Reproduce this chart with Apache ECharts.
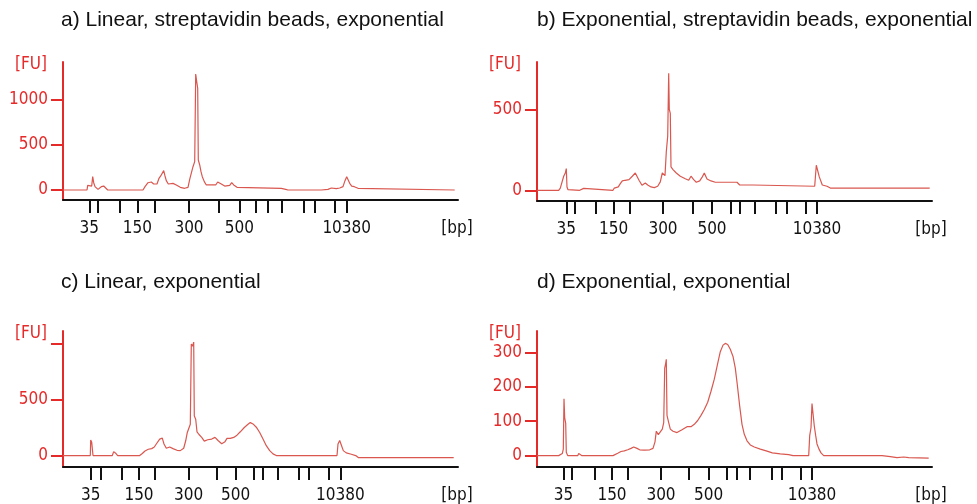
<!DOCTYPE html>
<html>
<head>
<meta charset="utf-8">
<script src="https://cdn.jsdelivr.net/npm/echarts@6/dist/echarts.min.js"></script>
<style>
html,body{margin:0;padding:0;background:#fff;}
#chart{width:977px;height:504px;}
</style>
</head>
<body>
<div id="chart"></div>
<script>
// ---- data (x = migration position, arbitrary units; y = fluorescence [FU]) ----
const ladderBp = [35, 50, 100, 150, 200, 300, 400, 500, 700, 1000, 1500, 2000, 3000, 7000, 10380];
const labeledBp = [35, 150, 300, 500, 10380];

const titles = [
  'a) Linear, streptavidin beads, exponential',
  'b) Exponential, streptavidin beads, exponential',
  'c) Linear, exponential',
  'd) Exponential, exponential'
];

// ladder peak positions per panel (migration units)
const ladderPosA = [26.3, 34.3, 56.3, 74.3, 92, 126, 155.3, 176.3, 192.7, 204.7, 218.7, 240.3, 252, 272, 283.7];
const ladderPosB = [29.3, 37.3, 59, 76.6, 92.3, 126, 155.6, 175, 193.3, 202.6, 217.3, 238.3, 250, 268.3, 280];
const ladderPosC = [27.7, 37.7, 58.4, 76, 91.7, 125.7, 153.4, 172.7, 191, 200, 214.4, 236, 246, 266, 277.4];
const ladderPosD = [26.6, 35, 57.6, 75, 90.6, 124, 151.6, 171.6, 190, 199.3, 212.6, 235, 245, 264, 275];

// y tick values per panel
const yTicksA = [0, 500, 1000];
const yTicksB = [0, 500];
const yTicksC = [0, 500, 1000];
const yLabelsC = [0, 500];
const yTicksD = [0, 100, 200, 300];

// electropherogram traces
const traceA = [
  [0,0],[24,0],[24.7,52],[26.7,37],[28.7,44],[29.7,148],[30.7,81],[32,37],[35,7],[38.3,37],[40.7,44],[42.7,30],[44.7,0],
  [80,0],[82,37],[85,81],[88.3,89],[90.7,67],[92.7,89],[94,67],[96,130],[97.7,156],[99.3,178],[100.7,215],[102,156],
  [103.3,104],[105.3,67],[107.3,56],[110,74],[113.3,56],[117.3,30],[121.7,19],[125,30],[126.7,119],[128.7,141],[130,259],
  [131.7,315],[132.7,1289],[133.7,1204],[134.7,1130],[135.3,333],[136.7,278],[138,204],[139.3,148],[141.3,93],[143.3,56],
  [152.7,56],[154.7,89],[156.7,100],[158.3,67],[161.7,44],[166.7,52],[168.7,81],[170.7,56],[174,30],[176,19],[218.3,19],
  [220,0],[222.7,7],[225,0],[258.3,0],[260,15],[265,7],[268.3,22],[273.3,15],[276.7,22],[280,37],[282,104],[283.7,148],
  [285.3,133],[286.7,74],[288.7,44],[291.3,37],[295,19],[296.7,0],[391.7,0]
];
const traceB = [
  [0,0],[21.7,0],[23.3,14],[25.3,10],[26.7,87],[28.3,107],[29.3,134],[30,21],[31,4],[42.7,0],[44,12],[46.7,12],[48,0],
  [76,0],[77.3,14],[81.3,21],[83.3,41],[85.3,58],[88,62],[90,50],[92,66],[94,58],[95.3,87],[97.3,79],[98.3,107],[100.3,107],
  [102,62],[105,31],[108.3,45],[110.7,33],[114,21],[117.3,17],[120.7,25],[123.3,52],[125.3,107],[128,91],[129.3,238],
  [130.7,335],[131.7,723],[132.3,500],[133.3,475],[134,145],[136,128],[139.3,107],[143.3,87],[148.3,72],[151.7,62],
  [154,87],[156.7,66],[159.3,50],[162.7,58],[165.3,83],[167.3,107],[170,70],[174,58],[178.3,50],[181.3,50],[182.7,62],
  [184.7,50],[200,50],[202.7,33],[216,33],[218,25],[277.7,25],[279.3,155],[281,149],[282.3,83],[284,74],[285.3,33],
  [290,25],[293.3,14],[392.7,14]
];
const traceC = [
  [0,0],[27.3,0],[27.7,138],[28.7,118],[29.7,109],[30,0],[49.3,0],[50.7,35],[51.7,50],[53,18],[54.7,0],[76.7,0],
  [79.3,18],[82,41],[85.3,56],[88.7,62],[91.3,76],[93.3,103],[95.3,88],[96.7,147],[99.3,156],[101,103],[103.3,65],
  [106.7,76],[110,62],[114,47],[117.3,44],[120.7,65],[122.7,132],[124.3,206],[126.3,200],[127.3,279],[128.3,994],
  [129.7,976],[130.7,1012],[131.3,353],[132.7,324],[134,212],[136,188],[138.7,162],[141.3,129],[144.7,141],[148.7,147],
  [152,162],[155.3,132],[158.7,106],[162,124],[164,153],[167.3,153],[170.7,162],[174,182],[177.3,212],[181.3,250],
  [185,279],[187.3,294],[190,282],[193.3,253],[196.7,206],[200,147],[203.3,88],[206.7,44],[210,15],[213.3,0],[274,0],
  [275,103],[276.7,135],[278.3,94],[280.3,44],[283.3,24],[288.3,12],[292.7,0],[295.3,-18],[390.7,-18]
];
const traceD = [
  [0,0],[21.7,0],[23.3,4],[25.3,6],[26.3,19],[27,165],[27.7,110],[28.7,94],[29.3,10],[30.7,0],[40.7,0],[41.7,6],[43.3,4],
  [45,0],[76,0],[77.3,5],[80.7,7],[84,12],[87.3,14],[90.7,17],[94,21],[96.7,25],[98.3,29],[100,21],[102.7,17],[107.3,16],
  [112.7,17],[116,21],[118,40],[119.3,71],[121.3,61],[123.3,69],[125.3,77],[126.7,96],[127.7,254],[128.7,268],[129.3,280],
  [130,117],[131.7,96],[133.3,77],[136,71],[140,67],[145,75],[150,84],[154,84],[157.3,91],[160.7,102],[164,117],[167.3,134],
  [170.7,155],[174,187],[177.3,222],[180.7,268],[183.3,302],[186,321],[188.3,326],[190.7,323],[193.3,309],[196,288],
  [198.3,254],[200.3,206],[202.7,144],[205,91],[207.3,62],[210,43],[213.3,31],[217.3,25],[223.3,19],[230,13],[235.3,8],
  [243.3,5],[251.7,3],[253.3,7],[256,0],[271.7,0],[272.7,58],[274,81],[275,151],[276,149],[277.3,86],[278.7,58],[280,34],
  [282,19],[284,8],[286.7,0],[345,0],[346.7,-5],[353.3,-3],[360,-6],[366.7,-4],[371.7,-6],[391.7,-7]
];

// ---- chart ----
const RED = '#e52a2a';
const TRACE = '#d9574f';
const INK = '#111';
const FONT = "'DejaVu Sans Condensed', 'Liberation Sans', sans-serif";

const panels = [
  {title: titles[0], trace: traceA, ladder: ladderPosA, yTicks: yTicksA, yLabels: yTicksA, ymin: -111, ymax: 1422,
   grid: {left: 63, right: 519, top: 62, bottom: 304}, tx: 61, ty: 10},
  {title: titles[1], trace: traceB, ladder: ladderPosB, yTicks: yTicksB, yLabels: yTicksB, ymin: -66, ymax: 793,
   grid: {left: 537, right: 45, top: 62, bottom: 303}, tx: 537, ty: 10},
  {title: titles[2], trace: traceC, ladder: ladderPosC, yTicks: yTicksC, yLabels: yLabelsC, ymin: -102, ymax: 1111,
   grid: {left: 63, right: 519, top: 331, bottom: 36}, tx: 61, ty: 272},
  {title: titles[3], trace: traceD, ladder: ladderPosD, yTicks: yTicksD, yLabels: yTicksD, ymin: -33, ymax: 362,
   grid: {left: 537, right: 45, top: 331, bottom: 36}, tx: 537, ty: 272}
];

const option = {
  animation: false,
  backgroundColor: '#fff',
  title: panels.map(p => ({
    text: p.title, left: p.tx, top: p.ty, padding: 0,
    textStyle: {fontFamily: "'Liberation Sans', Arial, sans-serif", fontSize: 21, fontWeight: 'normal', color: INK}
  })),
  grid: panels.map(p => p.grid),
  xAxis: panels.map((p, i) => {
    const labelPos = labeledBp.map(bp => p.ladder[ladderBp.indexOf(bp)]);
    return {
      type: 'value', gridIndex: i, min: 0, max: 395,
      name: '[bp]', nameLocation: 'end', nameGap: -1,
      nameTextStyle: {fontFamily: FONT, fontSize: 17, color: INK, align: 'center', verticalAlign: 'top', padding: [20, 0, 0, 0]},
      splitLine: {show: false},
      axisLine: {show: true, onZero: false, lineStyle: {color: INK, width: 2}},
      axisTick: {show: true, length: 13, customValues: p.ladder, lineStyle: {color: INK, width: 2}},
      axisLabel: {
        show: true, margin: 20, customValues: labelPos, color: INK, fontFamily: FONT, fontSize: 17,
        formatter: v => {
          let best = 0, bd = Infinity;
          p.ladder.forEach((x, k) => { const d = Math.abs(x - v); if (d < bd) { bd = d; best = k; } });
          return String(ladderBp[best]);
        }
      }
    };
  }),
  yAxis: panels.map((p, i) => ({
    type: 'value', gridIndex: i, min: p.ymin, max: p.ymax,
    name: '[FU]', nameLocation: 'end', nameGap: -3,
    nameTextStyle: {fontFamily: FONT, fontSize: 17, color: RED, align: 'right', verticalAlign: 'middle', padding: [0, 16, 0, 0]},
    splitLine: {show: false},
    axisLine: {show: true, onZero: false, lineStyle: {color: RED, width: 2}},
    axisTick: {show: true, length: 12, customValues: p.yTicks, lineStyle: {color: RED, width: 2}},
    axisLabel: {show: true, margin: 15, customValues: p.yLabels, color: RED, fontFamily: FONT, fontSize: 17,
      formatter: v => String(Math.round(v))}
  })),
  series: panels.map((p, i) => ({
    type: 'line', xAxisIndex: i, yAxisIndex: i, data: p.trace,
    showSymbol: false, symbol: 'none', smooth: false,
    lineStyle: {color: TRACE, width: 1.2}, silent: true
  }))
};

const chart = echarts.init(document.getElementById('chart'), null, {renderer: 'canvas'});
chart.setOption(option);
</script>
</body>
</html>
